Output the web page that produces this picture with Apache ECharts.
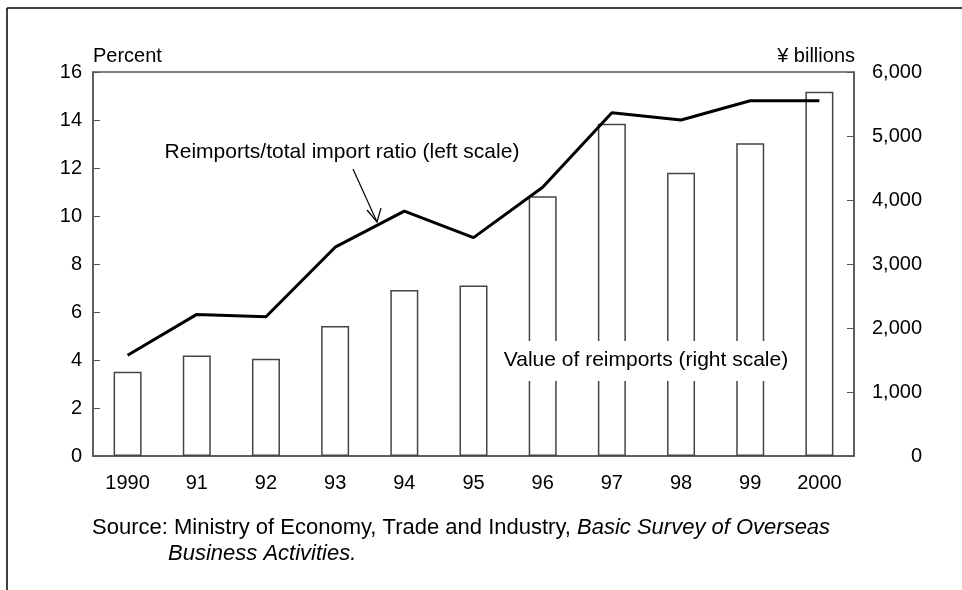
<!DOCTYPE html>
<html>
<head>
<meta charset="utf-8">
<script src="https://cdn.jsdelivr.net/npm/echarts@6/dist/echarts.min.js"></script>
<style>
html,body{margin:0;padding:0;background:#fff;}
#chart{width:962px;height:590px;}
</style>
</head>
<body>
<div id="chart"></div>
<script>
// ---- data ----
var categories = ['1990','91','92','93','94','95','96','97','98','99','2000'];
var reimportValue = [1315, 1570, 1520, 2030, 2595, 2665, 4060, 5190, 4425, 4885, 5690]; // ¥ billions (right scale)
var reimportRatio = [4.2, 5.9, 5.8, 8.7, 10.2, 9.1, 11.2, 14.3, 14.0, 14.8, 14.8]; // percent (left scale)
var leftTicks = [0, 16, 2];
var rightTicks = [0, 6000, 1000];

var FONT = '"Liberation Sans", Arial, Helvetica, sans-serif';
var AXIS = '#555';

var chart = echarts.init(document.getElementById('chart'), null, {renderer: 'canvas'});
chart.setOption({
  backgroundColor: '#fff',
  animation: false,
  textStyle: {fontFamily: FONT, color: '#000'},
  grid: {left: 93, right: 108, top: 72, bottom: 134, show: true, borderColor: AXIS, borderWidth: 1.5, containLabel: false},
  xAxis: {
    type: 'category', data: categories, boundaryGap: true,
    axisLine: {lineStyle: {color: AXIS, width: 1.5}},
    axisTick: {inside: true, length: 8, lineStyle: {color: AXIS, width: 1}},
    axisLabel: {fontSize: 20, color: '#000', margin: 17, fontFamily: FONT}
  },
  yAxis: [{
    type: 'value', min: leftTicks[0], max: leftTicks[1], interval: leftTicks[2], position: 'left',
    splitLine: {show: false},
    axisLine: {show: true, lineStyle: {color: AXIS, width: 1.5}},
    axisTick: {show: true, inside: true, length: 7, lineStyle: {color: AXIS, width: 1}},
    axisLabel: {fontSize: 20, color: '#000', margin: 11, fontFamily: FONT}
  }, {
    type: 'value', min: rightTicks[0], max: rightTicks[1], interval: rightTicks[2], position: 'right',
    splitLine: {show: false},
    axisLine: {show: true, lineStyle: {color: AXIS, width: 1.5}},
    axisTick: {show: true, inside: true, length: 7, lineStyle: {color: AXIS, width: 1}},
    axisLabel: {fontSize: 20, color: '#000', margin: 68, align: 'right', fontFamily: FONT,
      formatter: function (v) { return v.toLocaleString('en-US'); }}
  }],
  series: [{
    name: 'Value of reimports', type: 'bar', yAxisIndex: 1, data: reimportValue,
    barWidth: 28,
    itemStyle: {color: '#fff', borderColor: '#444', borderWidth: 1.5},
    z: 2
  }, {
    name: 'Reimports/total import ratio', type: 'line', yAxisIndex: 0, data: reimportRatio,
    showSymbol: false, symbol: 'none',
    lineStyle: {color: '#000', width: 3},
    z: 3
  }],
  graphic: [
    // outer frame
    {type: 'line', shape: {x1: 7, y1: 8, x2: 962, y2: 8}, style: {stroke: '#000', lineWidth: 1.5}, z: 10},
    {type: 'line', shape: {x1: 7, y1: 8, x2: 7, y2: 590}, style: {stroke: '#000', lineWidth: 1.5}, z: 10},
    // axis titles
    {type: 'text', x: 93, y: 56, style: {text: 'Percent', font: '20px ' + FONT, fill: '#000', textAlign: 'left', textVerticalAlign: 'middle'}, z: 10},
    {type: 'text', x: 855, y: 56, style: {text: '¥ billions', font: '20px ' + FONT, fill: '#000', textAlign: 'right', textVerticalAlign: 'middle'}, z: 10},
    // line annotation
    {type: 'text', x: 342, y: 152, style: {text: 'Reimports/total import ratio (left scale)', font: '21px ' + FONT, fill: '#000', textAlign: 'center', textVerticalAlign: 'middle'}, z: 10},
    {type: 'line', shape: {x1: 353, y1: 169, x2: 377, y2: 222}, style: {stroke: '#000', lineWidth: 1.2}, z: 10},
    {type: 'polyline', shape: {points: [[367, 210], [377, 222], [381, 208]]}, style: {stroke: '#000', lineWidth: 1.2, fill: null}, z: 10},
    // bar annotation with white box
    {type: 'rect', shape: {x: 490, y: 341, width: 310, height: 40}, style: {fill: '#fff'}, z: 9},
    {type: 'text', x: 646, y: 360, style: {text: 'Value of reimports (right scale)', font: '21px ' + FONT, fill: '#000', textAlign: 'center', textVerticalAlign: 'middle'}, z: 10},
    // source
    {type: 'text', x: 92, y: 528, style: {
      text: '{n|Source: Ministry of Economy, Trade and Industry, }{i|Basic Survey of Overseas}',
      rich: {n: {font: '22px ' + FONT, fill: '#000'}, i: {font: 'italic 22px ' + FONT, fill: '#000'}},
      textVerticalAlign: 'middle'}, z: 10},
    {type: 'text', x: 168, y: 554, style: {text: 'Business Activities.', font: 'italic 22px ' + FONT, fill: '#000', textVerticalAlign: 'middle'}, z: 10}
  ]
});
</script>
</body>
</html>
